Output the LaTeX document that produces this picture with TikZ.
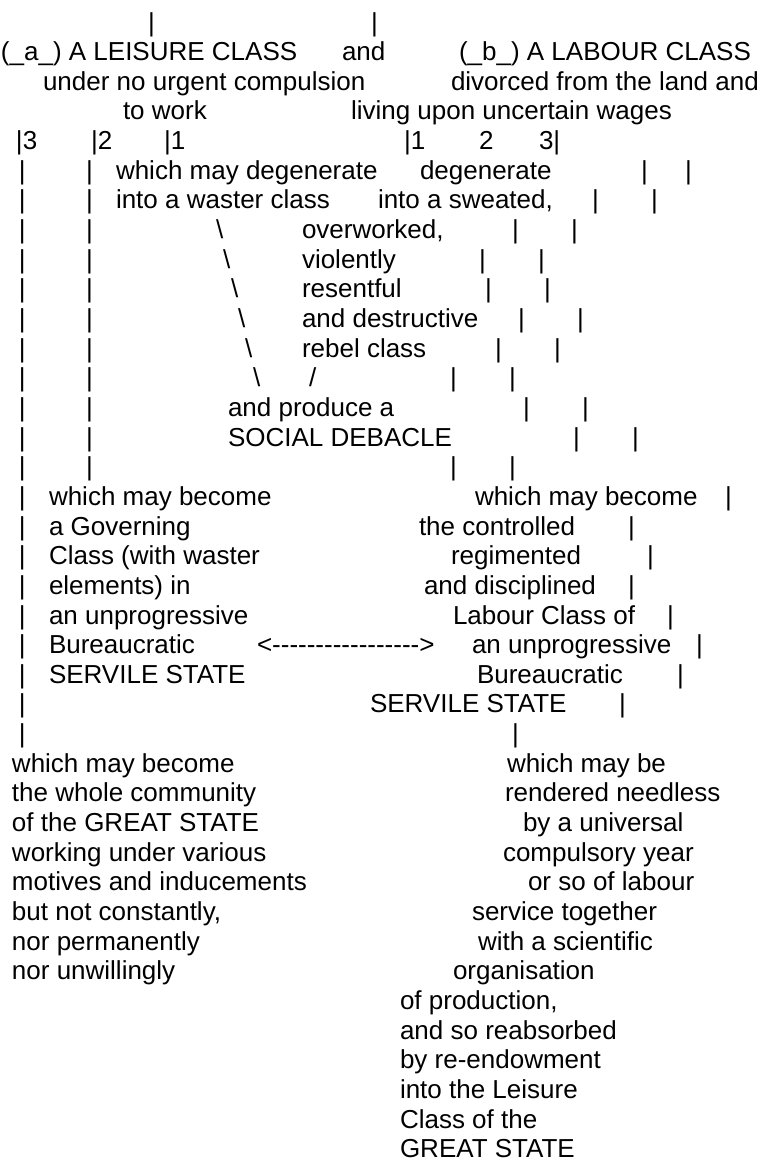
\documentclass[tikz,border=0pt]{standalone}
\usepackage{fontspec}
\newfontfamily\arial{Liberation Sans}
\begin{document}
\begin{tikzpicture}[x=1pt,y=-29.65pt,
  t/.style={anchor=base west,inner sep=0pt,outer sep=0pt,font=\arial\fontsize{26pt}{26pt}\selectfont}]
\useasboundingbox[fill=white] (0pt,0pt) rectangle (762pt,-1162pt);
\begin{scope}[yshift=-1.35pt]
% line 1
\node[t] (l1a) at (148,1) {|};
\node[t] (l1b) at (371,1) {|};
% line 2
\node[t] (l2a) at (1,2) {(\_a\_) A LEISURE CLASS};
\node[t] (l2b) at (342,2) {and};
\node[t] (l2c) at (459,2) {(\_b\_) A LABOUR CLASS};
% line 3
\node[t] (l3a) at (43,3) {under no urgent compulsion};
\node[t] (l3b) at (451,3) {divorced from the land and};
% line 4
\node[t] (l4a) at (123,4) {to work};
\node[t] (l4b) at (351,4) {living upon uncertain wages};
% line 5
\node[t] (l5a) at (16,5) {|3};
\node[t] (l5b) at (91,5) {|2};
\node[t] (l5c) at (164,5) {|1};
\node[t] (l5d) at (404,5) {|1};
\node[t] (l5e) at (479,5) {2};
\node[t] (l5f) at (539,5) {3|};
% left bars lines 6-16
\foreach \i in {6,...,16} {
  \node[t] (la\i) at (19,\i) {|};
  \node[t] (lb\i) at (86,\i) {|};
}
% line 6
\node[t] (l6a) at (116,6) {which may degenerate};
\node[t] (l6b) at (420,6) {degenerate};
\node[t] (l6c) at (641,6) {|};
\node[t] (l6d) at (685,6) {|};
% line 7
\node[t] (l7a) at (116,7) {into a waster class};
\node[t] (l7b) at (378,7) {into a sweated,};
\node[t] (l7c) at (592,7) {|};
\node[t] (l7d) at (651,7) {|};
% line 8
\node[t] (l8s) at (216,8) {\textbackslash};
\node[t] (l8a) at (302,8) {overworked,};
\node[t] (l8c) at (512,8) {|};
\node[t] (l8d) at (571,8) {|};
% line 9
\node[t] (l9s) at (223,9) {\textbackslash};
\node[t] (l9a) at (302,9) {violently};
\node[t] (l9c) at (479,9) {|};
\node[t] (l9d) at (538,9) {|};
% line 10
\node[t] (l10s) at (231,10) {\textbackslash};
\node[t] (l10a) at (302,10) {resentful};
\node[t] (l10c) at (485,10) {|};
\node[t] (l10d) at (544,10) {|};
% line 11
\node[t] (l11s) at (238,11) {\textbackslash};
\node[t] (l11a) at (302,11) {and destructive};
\node[t] (l11c) at (518,11) {|};
\node[t] (l11d) at (577,11) {|};
% line 12
\node[t] (l12s) at (245,12) {\textbackslash};
\node[t] (l12a) at (302,12) {rebel class};
\node[t] (l12c) at (495,12) {|};
\node[t] (l12d) at (554,12) {|};
% line 13
\node[t] (l13s) at (253,13) {\textbackslash};
\node[t] (l13f) at (309,13) {/};
\node[t] (l13c) at (450,13) {|};
\node[t] (l13d) at (509,13) {|};
% line 14
\node[t] (l14a) at (228,14) {and produce a};
\node[t] (l14c) at (523,14) {|};
\node[t] (l14d) at (582,14) {|};
% line 15
\node[t] (l15a) at (228,15) {SOCIAL DEBACLE};
\node[t] (l15c) at (573,15) {|};
\node[t] (l15d) at (632,15) {|};
% line 16
\node[t] (l16c) at (450,16) {|};
\node[t] (l16d) at (509,16) {|};
% left bar lines 17-25
\foreach \i in {17,...,25} {
  \node[t] (la\i) at (19,\i) {|};
}
% line 17
\node[t] (l17a) at (49,17) {which may become};
\node[t] (l17b) at (475,17) {which may become};
\node[t] (l17c) at (725,17) {|};
% line 18
\node[t] (l18a) at (49,18) {a Governing};
\node[t] (l18b) at (419,18) {the controlled};
\node[t] (l18c) at (628,18) {|};
% line 19
\node[t] (l19a) at (49,19) {Class (with waster};
\node[t] (l19b) at (451,19) {regimented};
\node[t] (l19c) at (647,19) {|};
% line 20
\node[t] (l20a) at (49,20) {elements) in};
\node[t] (l20b) at (424,20) {and disciplined};
\node[t] (l20c) at (628,20) {|};
% line 21
\node[t] (l21a) at (49,21) {an unprogressive};
\node[t] (l21b) at (453,21) {Labour Class of};
\node[t] (l21c) at (667,21) {|};
% line 22
\node[t] (l22a) at (49,22) {Bureaucratic};
\node[t] (l22arr) at (257,22) {<----------------->};
\node[t] (l22b) at (472,22) {an unprogressive};
\node[t] (l22c) at (696,22) {|};
% line 23
\node[t] (l23a) at (49,23) {SERVILE STATE};
\node[t] (l23b) at (477,23) {Bureaucratic};
\node[t] (l23c) at (677,23) {|};
% line 24
\node[t] (l24b) at (370,24) {SERVILE STATE};
\node[t] (l24c) at (619,24) {|};
% line 25
\node[t] (l25c) at (512,25) {|};
% lines 26-33
\node[t] (l26a) at (12,26) {which may become};
\node[t] (l26b) at (507,26) {which may be};
\node[t] (l27a) at (12,27) {the whole community};
\node[t] (l27b) at (505,27) {rendered needless};
\node[t] (l28a) at (12,28) {of the GREAT STATE};
\node[t] (l28b) at (523,28) {by a universal};
\node[t] (l29a) at (12,29) {working under various};
\node[t] (l29b) at (503,29) {compulsory year};
\node[t] (l30a) at (12,30) {motives and inducements};
\node[t] (l30b) at (528,30) {or so of labour};
\node[t] (l31a) at (12,31) {but not constantly,};
\node[t] (l31b) at (472,31) {service together};
\node[t] (l32a) at (12,32) {nor permanently};
\node[t] (l32b) at (478,32) {with a scientific};
\node[t] (l33a) at (12,33) {nor unwillingly};
\node[t] (l33b) at (453,33) {organisation};
% lines 34-39
\node[t] (l34b) at (400,34) {of production,};
\node[t] (l35b) at (400,35) {and so reabsorbed};
\node[t] (l36b) at (400,36) {by re-endowment};
\node[t] (l37b) at (400,37) {into the Leisure};
\node[t] (l38b) at (400,38) {Class of the};
\node[t] (l39b) at (400,39) {GREAT STATE};
\end{scope}
\end{tikzpicture}
\end{document}
